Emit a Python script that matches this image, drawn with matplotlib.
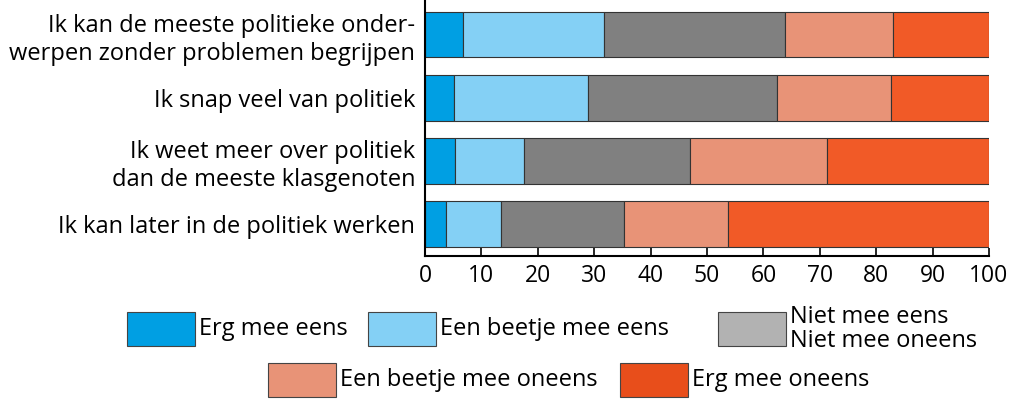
import matplotlib
matplotlib.use("Agg")
import matplotlib.pyplot as plt
from matplotlib.patches import Rectangle

plt.rcParams['font.family'] = ['Open Sans', 'DejaVu Sans']

# statements, top to bottom
statements = [
    "Ik kan de meeste politieke onder-\nwerpen zonder problemen begrijpen",
    "Ik snap veel van politiek",
    "Ik weet meer over politiek\ndan de meeste klasgenoten",
    "Ik kan later in de politiek werken",
]

# percentages per answer category
erg_eens = [6.7, 5.2, 5.3, 3.8]
beetje_eens = [25.1, 23.7, 12.2, 9.7]
neutraal = [32.0, 33.5, 29.4, 21.8]
beetje_oneens = [19.1, 20.3, 24.4, 18.4]
erg_oneens = [17.1, 17.3, 28.7, 46.3]

series = [erg_eens, beetje_eens, neutraal, beetje_oneens, erg_oneens]
bar_colors = ['#009FE3', '#84D0F5', '#808080', '#E89377', '#F15A27']
legend_colors = ['#009FE3', '#84D0F5', '#B2B2B2', '#E89377', '#E84E1B']
legend_labels = ['Erg mee eens', 'Een beetje mee eens',
                 'Niet mee eens\nNiet mee oneens',
                 'Een beetje mee oneens', 'Erg mee oneens']
xticks = [0, 10, 20, 30, 40, 50, 60, 70, 80, 90, 100]

W, H = 1018, 400
fs = 17
fig = plt.figure(figsize=(W / 100, H / 100), dpi=100)
ax = fig.add_axes([425 / W, 1 - 255.7 / H, (989 - 425) / W, 255.7 / H])

ypos = list(range(len(statements)))
left = [0.0] * len(statements)
for vals, col in zip(series, bar_colors):
    ax.barh(ypos, vals, left=left, height=0.72, color=col,
            edgecolor='#333333', linewidth=0.8)
    left = [l + v for l, v in zip(left, vals)]

ax.set_ylim(3.5, -0.55)
ax.set_xlim(0, 100)
ax.set_yticks(ypos)
ax.set_yticklabels(statements, fontsize=fs, linespacing=1.25)
ax.set_xticks(xticks)
ax.set_xticklabels([str(t) for t in xticks], fontsize=16.5)
ax.tick_params(axis='y', length=0, pad=7)
ax.tick_params(axis='x', direction='in', length=6, width=1.2, pad=6)
for s in ['top', 'right']:
    ax.spines[s].set_visible(False)
for s in ['left', 'bottom']:
    ax.spines[s].set_linewidth(1.5)

# legend drawn by hand (pixel layout)
boxes = [(127, 312), (368, 312), (718, 312), (268, 363), (620, 363)]
for (x0, y0), col, lab in zip(boxes, legend_colors, legend_labels):
    fig.patches.append(Rectangle((x0 / W, 1 - (y0 + 34) / H), 68 / W, 34 / H,
                                 transform=fig.transFigure, facecolor=col,
                                 edgecolor='#444444', linewidth=0.8))
    fig.text((x0 + 72) / W, 1 - (y0 + 17) / H, lab, fontsize=fs,
             va='center', ha='left', linespacing=1.0)

fig.savefig('out.png', dpi=100)
